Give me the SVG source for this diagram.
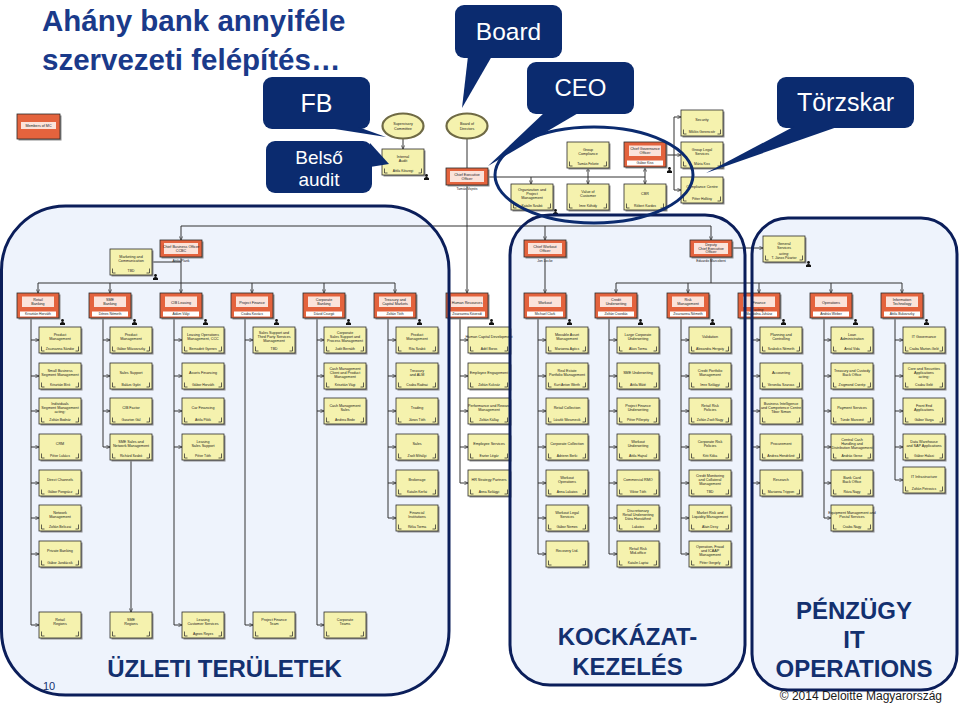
<svg xmlns="http://www.w3.org/2000/svg" width="960" height="704" viewBox="0 0 960 704">
<style>
.t{font-family:"Liberation Sans",Arial,sans-serif;font-size:3.7px;fill:#1a1a1a;text-anchor:middle}
.n{font-family:"Liberation Sans",Arial,sans-serif;font-size:3.4px;fill:#1a1a1a;text-anchor:middle}
.c{fill:none;stroke:#333;stroke-width:1}
.a{marker-end:url(#ar)}
.co{fill:#0B2B6F}
.ct{font-family:"Liberation Sans",Arial,sans-serif;fill:#fff;text-anchor:middle}
.big{font-family:"Liberation Sans",Arial,sans-serif;font-weight:bold;font-size:24px;fill:#13306F;text-anchor:middle}
.pf{fill:#EEF3FC}
.ps{fill:none;stroke:#0B1E5A;stroke-width:3}
</style>
<defs>
<marker id="ar" markerWidth="4" markerHeight="4" refX="3.6" refY="2" orient="auto" markerUnits="userSpaceOnUse"><path d="M0,0.3L3.6,2L0,3.7" fill="none" stroke="#333" stroke-width="0.7"/></marker>
<g id="Y"><rect x="1.5" y="1.5" width="42" height="26" fill="#8d8d8d"/><rect width="42" height="26" fill="#F5F2AE" stroke="#2b2b2b" stroke-width=".8"/><path d="M2.5 19.5v4.5h3M39.5 19.5v4.5h-3" fill="none" stroke="#222" stroke-width=".7"/></g>
<g id="O"><rect x="1.5" y="1.5" width="42" height="25" fill="#8d8d8d"/><rect width="42" height="25" fill="#E4633D" stroke="#2b2b2b" stroke-width=".8"/><rect x="5" y="3.5" width="32" height="10.5" fill="#fbe3da"/><rect x="3" y="18.5" width="36" height="5" fill="#fff"/></g>
<g id="Q"><rect x="1.5" y="1.5" width="42" height="17" fill="#8d8d8d"/><rect width="42" height="17" fill="#E4633D" stroke="#2b2b2b" stroke-width=".8"/><rect x="4" y="3" width="34" height="11" fill="#fbe3da"/></g>
<g id="E"><ellipse rx="20.5" ry="12.5" fill="#F5F2AE" stroke="#6f6a45" stroke-width="2.2"/></g>
<g id="P" fill="#111"><circle cx="2.5" cy="1.5" r="1.4"/><path d="M0 6V4.2Q2.5 2 5 4.2V6Z"/></g>
</defs>

<g id="panels">
<rect class="pf" x="1.5" y="206" width="447.5" height="489" rx="64"/>
<rect class="pf" x="510" y="215" width="235" height="470" rx="40"/>
<rect class="pf" x="752" y="218" width="205" height="472" rx="36"/>
</g>

<g id="title">
<text x="42" y="31" style="font-family:'Liberation Sans',Arial,sans-serif;font-weight:bold;font-size:29.5px;fill:#1A3A8A">Ahány bank annyiféle</text>
<text x="42" y="70" style="font-family:'Liberation Sans',Arial,sans-serif;font-weight:bold;font-size:29.5px;fill:#1A3A8A">szervezeti felépítés…</text>
</g>

<g id="connectors">
<path class="c a" d="M467 138.5V293"/>
<path class="c a" d="M403 138.5V149"/>
<path class="c" d="M488 177H645"/>
<path class="c a" d="M531 177V184"/><path class="c a" d="M588 177V184"/><path class="c a" d="M645 177V184"/>
<path class="c a" d="M588 177V168"/><path class="c a" d="M645 177V168"/>
<path class="c" d="M666 155H674M674 117V190"/>
<path class="c a" d="M674 117H681"/><path class="c a" d="M674 155H681"/><path class="c a" d="M674 190H681"/>
<path class="c" d="M181 226H711"/>
<path class="c a" d="M181 226V240"/><path class="c a" d="M545 226V240"/><path class="c a" d="M711 226V240"/>
<path class="c" d="M181 257V283M152 262H181M38 283H395"/>
<path class="c a" d="M38 283V293"/><path class="c a" d="M110 283V293"/><path class="c a" d="M181 283V293"/><path class="c a" d="M252 283V293"/><path class="c a" d="M324 283V293"/><path class="c a" d="M395 283V293"/>
<path class="c a" d="M545 257V293"/>
<path class="c" d="M711 257V283M616 283H902"/>
<path class="c a" d="M616 283V293"/><path class="c a" d="M688 283V293"/><path class="c a" d="M759 283V293"/><path class="c a" d="M831 283V293"/><path class="c a" d="M902 283V293"/>
<path class="c a" d="M732 248H763"/>
<path class="c" d="M31 318V625M103 318V447M174 318V625M245 318V625M317 318V625M388 318V518M460 318V483M538 318V554M609 318V554M681 318V554M752 318V483M824 318V518M895 318V480"/>
<path class="c a" d="M31 340H39"/><path class="c a" d="M31 376H39"/><path class="c a" d="M31 411H39"/><path class="c a" d="M31 447H39"/><path class="c a" d="M31 483H39"/><path class="c a" d="M31 518H39"/><path class="c a" d="M31 554H39"/><path class="c a" d="M31 625H39"/>
<path class="c a" d="M103 340H110"/><path class="c a" d="M103 376H110"/><path class="c a" d="M103 411H110"/><path class="c a" d="M103 447H110"/><path class="c a" d="M131 460V612"/>
<path class="c a" d="M174 340H182"/><path class="c a" d="M174 376H182"/><path class="c a" d="M174 411H182"/><path class="c a" d="M174 447H182"/><path class="c a" d="M174 625H182"/>
<path class="c a" d="M245 340H253"/><path class="c a" d="M245 625H253"/>
<path class="c a" d="M317 340H324"/><path class="c a" d="M317 376H324"/><path class="c a" d="M317 411H324"/><path class="c a" d="M317 625H324"/>
<path class="c a" d="M388 340H396"/><path class="c a" d="M388 376H396"/><path class="c a" d="M388 411H396"/><path class="c a" d="M388 447H396"/><path class="c a" d="M388 483H396"/><path class="c a" d="M388 518H396"/>
<path class="c a" d="M460 340H468"/><path class="c a" d="M460 376H468"/><path class="c a" d="M460 411H468"/><path class="c a" d="M460 447H468"/><path class="c a" d="M460 483H468"/>
<path class="c a" d="M538 340H546"/><path class="c a" d="M538 376H546"/><path class="c a" d="M538 411H546"/><path class="c a" d="M538 447H546"/><path class="c a" d="M538 483H546"/><path class="c a" d="M538 518H546"/><path class="c a" d="M538 554H546"/>
<path class="c a" d="M609 340H617"/><path class="c a" d="M609 376H617"/><path class="c a" d="M609 411H617"/><path class="c a" d="M609 447H617"/><path class="c a" d="M609 483H617"/><path class="c a" d="M609 518H617"/><path class="c a" d="M609 554H617"/>
<path class="c a" d="M681 340H689"/><path class="c a" d="M681 376H689"/><path class="c a" d="M681 411H689"/><path class="c a" d="M681 447H689"/><path class="c a" d="M681 483H689"/><path class="c a" d="M681 518H689"/><path class="c a" d="M681 554H689"/>
<path class="c a" d="M752 340H760"/><path class="c a" d="M752 376H760"/><path class="c a" d="M752 411H760"/><path class="c a" d="M752 447H760"/><path class="c a" d="M752 483H760"/>
<path class="c a" d="M824 340H831"/><path class="c a" d="M824 376H831"/><path class="c a" d="M824 411H831"/><path class="c a" d="M824 447H831"/><path class="c a" d="M824 483H831"/><path class="c a" d="M824 518H831"/>
<path class="c a" d="M895 340H903"/><path class="c a" d="M895 376H903"/><path class="c a" d="M895 411H903"/><path class="c a" d="M895 447H903"/><path class="c a" d="M895 480H903"/>
</g>

<g id="members-mc" transform="translate(17,114)"><rect x="1.5" y="1.5" width="43" height="25" fill="#8d8d8d"/><rect width="43" height="25" fill="#E4633D" stroke="#2b2b2b" stroke-width=".8"/><rect x="4" y="8" width="35" height="7" fill="#fbe3da"/><text class="t" x="21.5" y="12.8">Members of MC</text></g>
<g id="supervisory" transform="translate(403,126)"><use href="#E"/><text class="t" y="-1">Supervisory</text><text class="t" y="3.5">Committee</text></g>
<g id="board-directors" transform="translate(467,126)"><use href="#E"/><text class="t" y="-1">Board of</text><text class="t" y="3.5">Directors</text></g>
<g id="internal-audit" transform="translate(382,149)"><use href="#Y"/><text class="t" x="21" y="8.5">Internal</text><text class="t" x="21" y="13">Audit</text><text class="n" x="21" y="23">Attila Kőszegi</text></g>
<g id="ceo" transform="translate(446,168)"><use href="#Q"/><text class="t" x="21" y="7.5">Chief Executive</text><text class="t" x="21" y="11.8">Officer</text><text class="n" x="21" y="22">Tamás Vojnits</text></g>
<g id="group-compliance" transform="translate(567,142)"><use href="#Y"/><text class="t" x="21" y="8.5">Group</text><text class="t" x="21" y="13">Compliance</text><text class="n" x="21" y="23">Tamás Fekete</text></g>
<g id="chief-governance" transform="translate(624,142)"><use href="#O"/><text class="t" x="21" y="8">Chief Governance</text><text class="t" x="21" y="12.3">Officer</text><text class="n" x="21" y="22.3">Gábor Kiss</text></g>
<g id="org-project" transform="translate(511,184)"><use href="#Y"/><text class="t" x="21" y="6.5">Organization and</text><text class="t" x="21" y="10.7">Project</text><text class="t" x="21" y="14.9">Management</text><text class="n" x="21" y="23">Katalin Szabó</text></g>
<g id="value-customer" transform="translate(567,184)"><use href="#Y"/><text class="t" x="21" y="8.5">Value of</text><text class="t" x="21" y="13">Customer</text><text class="n" x="21" y="23">Imre Kőhidy</text></g>
<g id="cbr" transform="translate(624,184)"><use href="#Y"/><text class="t" x="21" y="11">CBR</text><text class="n" x="21" y="23">Róbert Kardos</text></g>
<g id="security" transform="translate(681,110)"><use href="#Y"/><text class="t" x="21" y="11">Security</text><text class="n" x="21" y="23">Miklós Gerencsér</text></g>
<g id="group-legal" transform="translate(681,142)"><use href="#Y"/><text class="t" x="21" y="8.5">Group Legal</text><text class="t" x="21" y="13">Services</text><text class="n" x="21" y="23">Mária Kiss</text></g>
<g id="compliance-centre" transform="translate(681,177)"><use href="#Y"/><text class="t" x="21" y="11">Compliance Centre</text><text class="n" x="21" y="23">Péter Hollósy</text></g>
<g id="marketing" transform="translate(110,249)"><use href="#Y"/><text class="t" x="21" y="8.5">Marketing and</text><text class="t" x="21" y="13">Communication</text><text class="n" x="21" y="23">TBD</text></g>
<g id="cbo" transform="translate(160,240)"><use href="#Q"/><text class="t" x="21" y="7.5">Chief Business Officer</text><text class="t" x="21" y="11.8">CCBC</text><text class="n" x="21" y="21.5">Attila Plank</text></g>
<g id="cwo" transform="translate(524,240)"><use href="#Q"/><text class="t" x="21" y="7.5">Chief Workout</text><text class="t" x="21" y="11.8">Officer</text><text class="n" x="21" y="21.5">Jon Locke</text></g>
<g id="deputy-ceo" transform="translate(690,240)"><use href="#Q"/><text class="t" x="21" y="5.8">Deputy</text><text class="t" x="21" y="9.6">Chief Executive</text><text class="t" x="21" y="13.4">Officer</text><text class="n" x="21" y="21.5">Eduardo Marcobeni</text></g>
<g id="general-services" transform="translate(763,236)"><use href="#Y"/><text class="t" x="21" y="8.5">General</text><text class="t" x="21" y="13">Services</text><text class="n" x="21" y="19">acting:</text><text class="n" x="21" y="23">T. János Pásztor</text></g>

<g id="h-retail" transform="translate(17,293)"><use href="#O"/><text class="t" x="21" y="8">Retail</text><text class="t" x="21" y="12.3">Banking</text><text class="n" x="21" y="22.3">Krisztián Horváth</text></g>
<g id="h-sme" transform="translate(89,293)"><use href="#O"/><text class="t" x="21" y="8">SME</text><text class="t" x="21" y="12.3">Banking</text><text class="n" x="21" y="22.3">Dénes Németh</text></g>
<g id="h-leasing" transform="translate(160,293)"><use href="#O"/><text class="t" x="21" y="10.5">CIB Leasing</text><text class="n" x="21" y="22.3">Ádám Vályi</text></g>
<g id="h-pf" transform="translate(231,293)"><use href="#O"/><text class="t" x="21" y="10.5">Project Finance</text><text class="n" x="21" y="22.3">Csaba Kovács</text></g>
<g id="h-corp" transform="translate(303,293)"><use href="#O"/><text class="t" x="21" y="8">Corporate</text><text class="t" x="21" y="12.3">Banking</text><text class="n" x="21" y="22.3">Dávid Csurgó</text></g>
<g id="h-treasury" transform="translate(374,293)"><use href="#O"/><text class="t" x="21" y="8">Treasury and</text><text class="t" x="21" y="12.3">Capital Markets</text><text class="n" x="21" y="22.3">Zoltán Tóth</text></g>
<g id="h-hr" transform="translate(446,293)"><use href="#O"/><text class="t" x="21" y="10.5">Human Resources</text><text class="n" x="21" y="22.3">Zsuzsanna Kövesdi</text></g>
<g id="h-workout" transform="translate(524,293)"><use href="#O"/><text class="t" x="21" y="10.5">Workout</text><text class="n" x="21" y="22.3">Michael Clark</text></g>
<g id="h-cu" transform="translate(595,293)"><use href="#O"/><text class="t" x="21" y="8">Credit</text><text class="t" x="21" y="12.3">Underwriting</text><text class="n" x="21" y="22.3">Zoltán Csordás</text></g>
<g id="h-risk" transform="translate(667,293)"><use href="#O"/><text class="t" x="21" y="8">Risk</text><text class="t" x="21" y="12.3">Management</text><text class="n" x="21" y="22.3">Zsuzsanna Németh</text></g>
<g id="h-finance" transform="translate(738,293)"><use href="#O"/><text class="t" x="21" y="10.5">Finance</text><text class="n" x="21" y="17.6">acting:</text><text class="n" x="21" y="22.3">Magdolna Juhász</text></g>
<g id="h-ops" transform="translate(810,293)"><use href="#O"/><text class="t" x="21" y="10.5">Operations</text><text class="n" x="21" y="22.3">András Weber</text></g>
<g id="h-it" transform="translate(881,293)"><use href="#O"/><text class="t" x="21" y="8">Information</text><text class="t" x="21" y="12.3">Technology</text><text class="n" x="21" y="22.3">Attila Bukovszky</text></g>

<g id="r1" transform="translate(39,327)"><use href="#Y"/><text class="t" x="21" y="8.5">Product</text><text class="t" x="21" y="13">Management</text><text class="n" x="21" y="23">Zsuzsanna Sándor</text></g>
<g id="r2" transform="translate(39,363)"><use href="#Y"/><text class="t" x="21" y="8.5">Small Business</text><text class="t" x="21" y="13">Segment Management</text><text class="n" x="21" y="23">Krisztián Bíró</text></g>
<g id="r3" transform="translate(39,398)"><use href="#Y"/><text class="t" x="21" y="6.5">Individuals</text><text class="t" x="21" y="10.7">Segment Management</text><text class="t" x="21" y="14.9">acting:</text><text class="n" x="21" y="23">Zoltán Bodnár</text></g>
<g id="r4" transform="translate(39,434)"><use href="#Y"/><text class="t" x="21" y="11">CRM</text><text class="n" x="21" y="23">Péter Lukács</text></g>
<g id="r5" transform="translate(39,470)"><use href="#Y"/><text class="t" x="21" y="11">Direct Channels</text><text class="n" x="21" y="23">Gábor Pongrácz</text></g>
<g id="r6" transform="translate(39,505)"><use href="#Y"/><text class="t" x="21" y="8.5">Network</text><text class="t" x="21" y="13">Management</text><text class="n" x="21" y="23">Zoltán Beliczai</text></g>
<g id="r7" transform="translate(39,541)"><use href="#Y"/><text class="t" x="21" y="11">Private Banking</text><text class="n" x="21" y="23">Gábor Jandácsik</text></g>
<g id="r8" transform="translate(39,612)"><use href="#Y"/><text class="t" x="21" y="8.5">Retail</text><text class="t" x="21" y="13">Regions</text></g>
<g id="s1" transform="translate(110,327)"><use href="#Y"/><text class="t" x="21" y="8.5">Product</text><text class="t" x="21" y="13">Management</text><text class="n" x="21" y="23">Gábor Milasovszky</text></g>
<g id="s2" transform="translate(110,363)"><use href="#Y"/><text class="t" x="21" y="11">Sales Support</text><text class="n" x="21" y="23">Balázs Győri</text></g>
<g id="s3" transform="translate(110,398)"><use href="#Y"/><text class="t" x="21" y="11">CIB Factor</text><text class="n" x="21" y="23">Gaszton Gál</text></g>
<g id="s4" transform="translate(110,434)"><use href="#Y"/><text class="t" x="21" y="8.5">SME Sales and</text><text class="t" x="21" y="13">Network Management</text><text class="n" x="21" y="23">Richárd Szabó</text></g>
<g id="s5" transform="translate(110,612)"><use href="#Y"/><text class="t" x="21" y="8.5">SME</text><text class="t" x="21" y="13">Regions</text></g>
<g id="l1" transform="translate(182,327)"><use href="#Y"/><text class="t" x="21" y="8.5">Leasing Operations</text><text class="t" x="21" y="13">Management, CCC</text><text class="n" x="21" y="23">Bernadett Gyenes</text></g>
<g id="l2" transform="translate(182,363)"><use href="#Y"/><text class="t" x="21" y="11">Assets Financing</text><text class="n" x="21" y="23">Gábor Horváth</text></g>
<g id="l3" transform="translate(182,398)"><use href="#Y"/><text class="t" x="21" y="11">Car Financing</text><text class="n" x="21" y="23">Attila Pilók</text></g>
<g id="l4" transform="translate(182,434)"><use href="#Y"/><text class="t" x="21" y="8.5">Leasing</text><text class="t" x="21" y="13">Sales Support</text><text class="n" x="21" y="23">Péter Tóth</text></g>
<g id="l5" transform="translate(182,612)"><use href="#Y"/><text class="t" x="21" y="8.5">Leasing</text><text class="t" x="21" y="13">Customer Services</text><text class="n" x="21" y="23">Ágnes Reyes</text></g>
<g id="p1" transform="translate(253,327)"><use href="#Y"/><text class="t" x="21" y="6.5">Sales Support and</text><text class="t" x="21" y="10.7">Third Party Services</text><text class="t" x="21" y="14.9">Management</text><text class="n" x="21" y="23">TBD</text></g>
<g id="p2" transform="translate(253,612)"><use href="#Y"/><text class="t" x="21" y="8.5">Project Finance</text><text class="t" x="21" y="13">Team</text></g>
<g id="k1" transform="translate(324,327)"><use href="#Y"/><text class="t" x="21" y="6.5">Corporate</text><text class="t" x="21" y="10.7">Sales Support and</text><text class="t" x="21" y="14.9">Process Management</text><text class="n" x="21" y="23">Judit Bernáth</text></g>
<g id="k2" transform="translate(324,363)"><use href="#Y"/><text class="t" x="21" y="6.5">Cash Management</text><text class="t" x="21" y="10.7">Client and Product</text><text class="t" x="21" y="14.9">Management</text><text class="n" x="21" y="23">Krisztián Vági</text></g>
<g id="k3" transform="translate(324,398)"><use href="#Y"/><text class="t" x="21" y="8.5">Cash Management</text><text class="t" x="21" y="13">Sales</text><text class="n" x="21" y="23">Andrea Bede</text></g>
<g id="k4" transform="translate(324,612)"><use href="#Y"/><text class="t" x="21" y="8.5">Corporate</text><text class="t" x="21" y="13">Teams</text></g>
<g id="t1" transform="translate(396,327)"><use href="#Y"/><text class="t" x="21" y="8.5">Product</text><text class="t" x="21" y="13">Management</text><text class="n" x="21" y="23">Rita Szabó</text></g>
<g id="t2" transform="translate(396,363)"><use href="#Y"/><text class="t" x="21" y="8.5">Treasury</text><text class="t" x="21" y="13">and ALM</text><text class="n" x="21" y="23">Csaba Radnai</text></g>
<g id="t3" transform="translate(396,398)"><use href="#Y"/><text class="t" x="21" y="11">Trading</text><text class="n" x="21" y="23">János Tóth</text></g>
<g id="t4" transform="translate(396,434)"><use href="#Y"/><text class="t" x="21" y="11">Sales</text><text class="n" x="21" y="23">Zsolt Mihályi</text></g>
<g id="t5" transform="translate(396,470)"><use href="#Y"/><text class="t" x="21" y="11">Brokerage</text><text class="n" x="21" y="23">Katalin Kerfai</text></g>
<g id="t6" transform="translate(396,505)"><use href="#Y"/><text class="t" x="21" y="8.5">Financial</text><text class="t" x="21" y="13">Institutions</text><text class="n" x="21" y="23">Réka Torma</text></g>
<g id="hr1" transform="translate(468,327)"><use href="#Y"/><text class="t" x="21" y="11">Human Capital Development</text><text class="n" x="21" y="23">Adél Boros</text></g>
<g id="hr2" transform="translate(468,363)"><use href="#Y"/><text class="t" x="21" y="11">Employee Engagement</text><text class="n" x="21" y="23">Zoltán Kulcsár</text></g>
<g id="hr3" transform="translate(468,398)"><use href="#Y"/><text class="t" x="21" y="8.5">Performance and Reward</text><text class="t" x="21" y="13">Management</text><text class="n" x="21" y="23">Zoltán Kállay</text></g>
<g id="hr4" transform="translate(468,434)"><use href="#Y"/><text class="t" x="21" y="11">Employee Services</text><text class="n" x="21" y="23">Eszter Légár</text></g>
<g id="hr5" transform="translate(468,470)"><use href="#Y"/><text class="t" x="21" y="11">HR Strategy Partners</text><text class="n" x="21" y="23">Anna Szilágyi</text></g>
<g id="w1" transform="translate(546,327)"><use href="#Y"/><text class="t" x="21" y="8.5">Movable Asset</text><text class="t" x="21" y="13">Management</text><text class="n" x="21" y="23">Marianna Agócs</text></g>
<g id="w2" transform="translate(546,363)"><use href="#Y"/><text class="t" x="21" y="8.5">Real Estate</text><text class="t" x="21" y="13">Portfolio Management</text><text class="n" x="21" y="23">Kurt Anton Werth</text></g>
<g id="w3" transform="translate(546,398)"><use href="#Y"/><text class="t" x="21" y="11">Retail Collection</text><text class="n" x="21" y="23">László Wosznecik</text></g>
<g id="w4" transform="translate(546,434)"><use href="#Y"/><text class="t" x="21" y="11">Corporate Collection</text><text class="n" x="21" y="23">Adrienn Berki</text></g>
<g id="w5" transform="translate(546,470)"><use href="#Y"/><text class="t" x="21" y="8.5">Workout</text><text class="t" x="21" y="13">Operations</text><text class="n" x="21" y="23">Anna Lakatos</text></g>
<g id="w6" transform="translate(546,505)"><use href="#Y"/><text class="t" x="21" y="8.5">Workout Legal</text><text class="t" x="21" y="13">Services</text><text class="n" x="21" y="23">Gábor Nemes</text></g>
<g id="w7" transform="translate(546,541)"><use href="#Y"/><text class="t" x="21" y="11">Recovery Ltd.</text></g>
<g id="u1" transform="translate(617,327)"><use href="#Y"/><text class="t" x="21" y="8.5">Large Corporate</text><text class="t" x="21" y="13">Underwriting</text><text class="n" x="21" y="23">Ákos Torma</text></g>
<g id="u2" transform="translate(617,363)"><use href="#Y"/><text class="t" x="21" y="11">SME Underwriting</text><text class="n" x="21" y="23">Attila Máté</text></g>
<g id="u3" transform="translate(617,398)"><use href="#Y"/><text class="t" x="21" y="8.5">Project Finance</text><text class="t" x="21" y="13">Underwriting</text><text class="n" x="21" y="23">Péter Pillerpity</text></g>
<g id="u4" transform="translate(617,434)"><use href="#Y"/><text class="t" x="21" y="8.5">Workout</text><text class="t" x="21" y="13">Underwriting</text><text class="n" x="21" y="23">Attila Hajnal</text></g>
<g id="u5" transform="translate(617,470)"><use href="#Y"/><text class="t" x="21" y="11">Commercial RMO</text><text class="n" x="21" y="23">Viktor Tóth</text></g>
<g id="u6" transform="translate(617,505)"><use href="#Y"/><text class="t" x="21" y="6.5">Discretionary</text><text class="t" x="21" y="10.7">Retail Underwriting</text><text class="t" x="21" y="14.9">Dóra Horváthné</text><text class="n" x="21" y="23">Lakatos</text></g>
<g id="u7" transform="translate(617,541)"><use href="#Y"/><text class="t" x="21" y="8.5">Retail Risk</text><text class="t" x="21" y="13">Mid-office</text><text class="n" x="21" y="23">Katalin Laptai</text></g>
<g id="m1" transform="translate(689,327)"><use href="#Y"/><text class="t" x="21" y="11">Validation</text><text class="n" x="21" y="23">Alexandra Hergaty</text></g>
<g id="m2" transform="translate(689,363)"><use href="#Y"/><text class="t" x="21" y="8.5">Credit Portfolio</text><text class="t" x="21" y="13">Management</text><text class="n" x="21" y="23">Imre Szilágyi</text></g>
<g id="m3" transform="translate(689,398)"><use href="#Y"/><text class="t" x="21" y="8.5">Retail Risk</text><text class="t" x="21" y="13">Policies</text><text class="n" x="21" y="23">Zoltán Zsolt Nagy</text></g>
<g id="m4" transform="translate(689,434)"><use href="#Y"/><text class="t" x="21" y="8.5">Corporate Risk</text><text class="t" x="21" y="13">Policies</text><text class="n" x="21" y="23">Kitti Kóka</text></g>
<g id="m5" transform="translate(689,470)"><use href="#Y"/><text class="t" x="21" y="6.5">Credit Monitoring</text><text class="t" x="21" y="10.7">and Collateral</text><text class="t" x="21" y="14.9">Management</text><text class="n" x="21" y="23">TBD</text></g>
<g id="m6" transform="translate(689,505)"><use href="#Y"/><text class="t" x="21" y="8.5">Market Risk and</text><text class="t" x="21" y="13">Liquidity Management</text><text class="n" x="21" y="23">Alain Desy</text></g>
<g id="m7" transform="translate(689,541)"><use href="#Y"/><text class="t" x="21" y="6.5">Operation, Fraud</text><text class="t" x="21" y="10.7">and ICAAP</text><text class="t" x="21" y="14.9">Management</text><text class="n" x="21" y="23">Péter Gergely</text></g>
<g id="f1" transform="translate(760,327)"><use href="#Y"/><text class="t" x="21" y="8.5">Planning and</text><text class="t" x="21" y="13">Controlling</text><text class="n" x="21" y="23">Szabolcs Németh</text></g>
<g id="f2" transform="translate(760,363)"><use href="#Y"/><text class="t" x="21" y="11">Accounting</text><text class="n" x="21" y="23">Veronika Szarvas</text></g>
<g id="f3" transform="translate(760,398)"><use href="#Y"/><text class="t" x="21" y="6.5">Business Intelligence</text><text class="t" x="21" y="10.7">and Competence Centre</text><text class="t" x="21" y="14.9">Tibor Simon</text></g>
<g id="f4" transform="translate(760,434)"><use href="#Y"/><text class="t" x="21" y="11">Procurement</text><text class="n" x="21" y="23">Andrea Hendrikné</text></g>
<g id="f5" transform="translate(760,470)"><use href="#Y"/><text class="t" x="21" y="11">Research</text><text class="n" x="21" y="23">Marianna Trippon</text></g>
<g id="o1" transform="translate(831,327)"><use href="#Y"/><text class="t" x="21" y="8.5">Loan</text><text class="t" x="21" y="13">Administration</text><text class="n" x="21" y="23">Antal Vida</text></g>
<g id="o2" transform="translate(831,363)"><use href="#Y"/><text class="t" x="21" y="8.5">Treasury and Custody</text><text class="t" x="21" y="13">Back Office</text><text class="n" x="21" y="23">Zsigmond Cserép</text></g>
<g id="o3" transform="translate(831,398)"><use href="#Y"/><text class="t" x="21" y="11">Payment Services</text><text class="n" x="21" y="23">Tünde Marosné</text></g>
<g id="o4" transform="translate(831,434)"><use href="#Y"/><text class="t" x="21" y="6.5">Central Cash</text><text class="t" x="21" y="10.7">Handling and</text><text class="t" x="21" y="14.9">Distribution Management</text><text class="n" x="21" y="23">András Gerse</text></g>
<g id="o5" transform="translate(831,470)"><use href="#Y"/><text class="t" x="21" y="8.5">Bank Card</text><text class="t" x="21" y="13">Back Office</text><text class="n" x="21" y="23">Róza Nagy</text></g>
<g id="o6" transform="translate(831,505)"><use href="#Y"/><text class="t" x="21" y="8.5">Equipment Management and</text><text class="t" x="21" y="13">Postal Services</text><text class="n" x="21" y="23">Csaba Nagy</text></g>
<g id="i1" transform="translate(903,327)"><use href="#Y"/><text class="t" x="21" y="11">IT Governance</text><text class="n" x="21" y="23">Csaba Marton-Gelé</text></g>
<g id="i2" transform="translate(903,363)"><use href="#Y"/><text class="t" x="21" y="6.5">Core and Securities</text><text class="t" x="21" y="10.7">Applications</text><text class="t" x="21" y="14.9">acting:</text><text class="n" x="21" y="23">Csaba Gelé</text></g>
<g id="i3" transform="translate(903,398)"><use href="#Y"/><text class="t" x="21" y="8.5">Front End</text><text class="t" x="21" y="13">Applications</text><text class="n" x="21" y="23">Gábor Varga</text></g>
<g id="i4" transform="translate(903,434)"><use href="#Y"/><text class="t" x="21" y="8.5">Data Warehouse</text><text class="t" x="21" y="13">and SAP Applications</text><text class="n" x="21" y="23">Gábor Halasi</text></g>
<g id="i5" transform="translate(903,467)"><use href="#Y"/><text class="t" x="21" y="11">IT Infrastructure</text><text class="n" x="21" y="23">Zoltán Petrovics</text></g>

<g id="icons">
<use href="#P" x="60" y="319"/><use href="#P" x="132" y="319"/><use href="#P" x="203" y="319"/><use href="#P" x="274" y="319"/><use href="#P" x="346" y="319"/><use href="#P" x="417" y="319"/><use href="#P" x="489" y="319"/><use href="#P" x="567" y="319"/><use href="#P" x="638" y="319"/><use href="#P" x="710" y="319"/><use href="#P" x="781" y="319"/><use href="#P" x="853" y="319"/><use href="#P" x="924" y="319"/>
<use href="#P" x="424" y="174"/><use href="#P" x="553" y="209"/><use href="#P" x="667" y="167"/><use href="#P" x="153" y="274"/><use href="#P" x="806" y="261"/>
</g>

<g id="panel-borders">
<rect class="ps" x="1.5" y="206" width="447.5" height="489" rx="64"/>
<rect class="ps" x="510" y="215" width="235" height="470" rx="40"/>
<rect class="ps" x="752" y="218" width="205" height="472" rx="36"/>
</g>

<g id="staff-ellipse"><ellipse cx="594" cy="175" rx="99" ry="48" fill="none" stroke="#0B2B6F" stroke-width="3"/></g>

<g id="callout-board"><rect class="co" x="455" y="5" width="107" height="53" rx="9"/><polygon class="co" points="468,56 492,56 462,108"/><text class="ct" x="508.5" y="40" font-size="24.5">Board</text></g>
<g id="callout-fb"><rect class="co" x="263" y="77" width="107" height="52" rx="9"/><polygon class="co" points="322,127 358,127 386,137"/><text class="ct" x="316.5" y="112" font-size="25">FB</text></g>
<g id="callout-ceo"><rect class="co" x="527" y="62" width="107" height="52" rx="9"/><polygon class="co" points="545,112 580,112 488,166"/><text class="ct" x="580.5" y="96" font-size="24">CEO</text></g>
<g id="callout-torzskar"><rect class="co" x="777" y="77" width="137" height="51" rx="9"/><polygon class="co" points="795,126 840,126 706,173"/><text class="ct" x="845.5" y="111" font-size="25">Törzskar</text></g>
<g id="callout-audit"><rect class="co" x="266" y="141" width="106" height="52" rx="9"/><polygon class="co" points="370,143 389,164 370,167"/><text class="ct" x="319" y="164" font-size="19">Belső</text><text class="ct" x="319" y="186" font-size="19">audit</text></g>

<g id="labels">
<text class="big" x="224.5" y="677">ÜZLETI TERÜLETEK</text>
<text class="big" x="627.5" y="645">KOCKÁZAT-</text>
<text class="big" x="627.5" y="675">KEZELÉS</text>
<text class="big" x="854" y="619">PÉNZÜGY</text>
<text class="big" x="854" y="648">IT</text>
<text class="big" x="854" y="677">OPERATIONS</text>
<text x="49" y="690" style="font-family:'Liberation Sans',Arial,sans-serif;font-size:11px;fill:#13306F;text-anchor:middle">10</text>
<text x="942" y="700" style="font-family:'Liberation Sans',Arial,sans-serif;font-size:12px;fill:#1a1a1a;text-anchor:end">© 2014 Deloitte Magyarország</text>
</g>
</svg>
